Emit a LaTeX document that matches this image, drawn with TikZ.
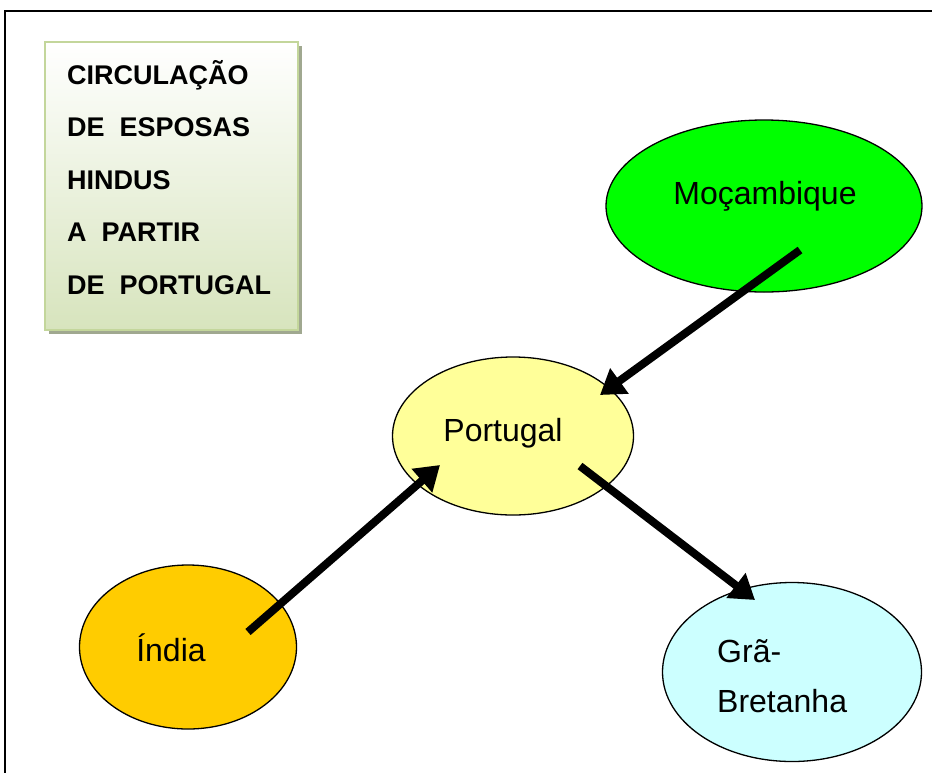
\documentclass[tikz,border=0pt]{standalone}
\usepackage{fontspec}
\setmainfont{Liberation Sans}
\usetikzlibrary{shapes.geometric,arrows.meta,calc,shadows}
\definecolor{mozgreen}{HTML}{00FF00}
\definecolor{portyellow}{HTML}{FFFF99}
\definecolor{indorange}{HTML}{FFCC00}
\definecolor{gbcyan}{HTML}{CCFFFF}
\definecolor{boxborder}{HTML}{C3D69B}
\definecolor{boxbottom}{HTML}{D7E4BD}
\definecolor{boxshadow}{HTML}{A0A890}
\tikzset{
  place/.style={ellipse, draw=black, line width=1.3pt, inner sep=0pt},
  lbl/.style={font=\fontsize{32}{38}\selectfont},
  arr/.style={line width=8pt, -{Triangle[length=24pt,width=30pt]}},
}
\begin{document}
\begin{tikzpicture}[x=1pt,y=-1pt]
\useasboundingbox (0,0) rectangle (932,772);
% frame
\draw[line width=2.2pt] (5,790) -- (5,11) -- (950,11);
% title box
\fill[boxshadow] (49,46) rectangle (302,334);
\shade[top color=white, bottom color=boxbottom] (45,42) rectangle (298,330);
\draw[boxborder, line width=2pt] (45,42) rectangle (298,330);
\node[anchor=north west, align=left, inner sep=0pt, font=\fontsize{27}{52.5}\selectfont\bfseries] (title) at (67,60)
  {CIRCULAÇÃO\\DE\ \ ESPOSAS\\HINDUS\\A\ \ PARTIR\\DE\ \ PORTUGAL};
% places
\node[place, fill=mozgreen, minimum width=316pt, minimum height=172pt] (moz) at (764,206) {};
\node[lbl] (mozl) at (765,196) {Moçambique};
\node[place, fill=portyellow, minimum width=241pt, minimum height=158pt] (port) at (513,436) {};
\node[lbl] (portl) at (503,433) {Portugal};
\node[place, fill=indorange, minimum width=217pt, minimum height=164pt] (ind) at (188,647) {};
\node[lbl] (indl) at (171,648) {Índia};
\node[place, fill=gbcyan, minimum width=259pt, minimum height=179pt] (gb) at (792,672) {};
\node[font=\fontsize{32}{50}\selectfont, align=left, anchor=north west, inner sep=0pt] (gbl) at (717,639) {Grã-\\Bretanha};
% arrows
\draw[arr] ([shift={(36,44)}]moz.center) -- ([shift={(87,-41)}]port.center);
\draw[arr] ([shift={(60,-15)}]ind.center) -- ([shift={(-73,29)}]port.center);
\draw[arr] ([shift={(67,30)}]port.center) -- ([shift={(-37,-72)}]gb.center);
\end{tikzpicture}
\end{document}
